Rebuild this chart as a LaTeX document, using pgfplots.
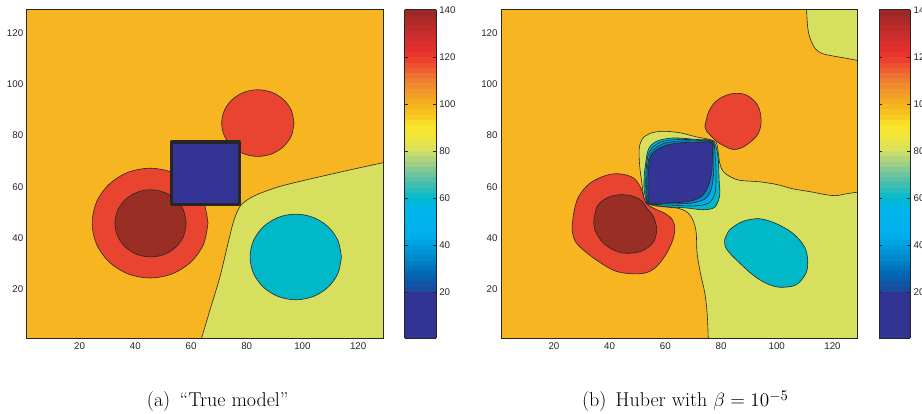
\documentclass[border=0pt]{standalone}
\usepackage{fontspec}
\usepackage{pgfplots}
\pgfplotsset{compat=1.18}
\newfontfamily\tickfont{Liberation Sans}
\definecolor{bgorange}{RGB}{246,181,33}
\definecolor{ygreen}{RGB}{214,224,94}
\definecolor{cred}{RGB}{232,68,47}
\definecolor{dred}{RGB}{153,46,37}
\definecolor{dblue}{RGB}{51,52,147}
\definecolor{ccyan}{RGB}{0,184,200}
\definecolor{lblue}{RGB}{0,174,236}
\definecolor{mblue}{RGB}{0,140,205}
\pgfplotsset{
  colormap={mymap}{rgb255(0pt)=(50,52,148) rgb255(19pt)=(50,52,148) rgb255(21pt)=(25,75,160)
    rgb255(28pt)=(0,105,180) rgb255(36pt)=(0,145,210) rgb255(44pt)=(0,175,235) rgb255(55pt)=(0,180,236)
    rgb255(60pt)=(0,185,205) rgb255(67pt)=(80,190,170) rgb255(74pt)=(150,205,140) rgb255(80pt)=(212,224,100)
    rgb255(86pt)=(240,230,60) rgb255(91pt)=(250,228,40) rgb255(96pt)=(247,195,30) rgb255(100pt)=(245,178,30)
    rgb255(106pt)=(242,150,45) rgb255(112pt)=(238,115,50) rgb255(118pt)=(235,70,48) rgb255(122pt)=(232,48,45)
    rgb255(130pt)=(200,45,45) rgb255(140pt)=(150,40,38)},
  myaxis/.style={
    scale only axis, width=267.4pt, height=246.2pt,
    xmin=1, xmax=129, ymin=1, ymax=129,
    xtick={20,40,...,120}, ytick={20,40,...,120},
    major tick length=0pt,
    tick label style={font=\tickfont\fontsize{7.3}{8}\selectfont, text=black!85},
    /pgf/number format/assume math mode=true,
    xticklabel style={inner sep=0pt, yshift=-3.7pt},
    yticklabel style={inner sep=0pt, xshift=-2.4pt},
    axis line style={black!85, line width=0.6pt},
    axis background/.style={fill=bgorange},
    axis on top,
    colorbar, colorbar sampled,
    point meta min=0.5, point meta max=140,
    colorbar style={
      at={(parent axis.north east)}, anchor=north west, xshift=7.6pt,
      scale only axis, width=23.5pt, height=246.2pt,
      samples=64,
      ytick={20,40,...,140},
      ytick pos=both, yticklabel pos=right,
      tick align=inside, major tick length=2.2pt,
      tick style={black!85, line width=0.4pt},
      tick label style={font=\tickfont\fontsize{7.3}{8}\selectfont, text=black!85},
      /pgf/number format/assume math mode=true,
      yticklabel style={inner sep=0pt, xshift=2.2pt},
      axis line style={black!85, line width=0.6pt},
    },
  },
  region/.style={draw=black!85, line width=0.45pt, smooth, tension=0.55},
}
\begin{document}
\begin{tikzpicture}
\useasboundingbox (0pt,0pt) rectangle (691.5pt,310.5pt);
% ---------- (a) True model ----------
\begin{axis}[myaxis, at={(20pt,57pt)}, anchor=south west]
\addplot[region, fill=ygreen] coordinates {(62.0,-10) (62.9,-2) (63.8,1) (66.8,11.9) (70.4,24.9) (73.3,38) (75.1,45.8) (76.9,51) (78.7,53.6) (82.3,56.2) (88.2,58.8) (95.4,61.1) (113.2,65.6) (128.7,69.3) (135,70.8) (145,73.2) (145,-20) (135,-20)} -- cycle;
\addplot[region, fill=ccyan] coordinates {(114,32.6) (112.75,39) (109.19,44.41) (103.88,48.03) (97.6,49.3) (91.32,48.03) (86.01,44.41) (82.45,39) (81.2,32.6) (82.45,26.2) (86.01,20.79) (91.32,17.17) (97.6,15.9) (103.88,17.17) (109.19,20.79) (112.75,26.2) (114,32.6)} -- cycle;
\addplot[region, fill=cred] coordinates {(66.1,45.8) (64.52,53.99) (60.01,60.93) (53.27,65.57) (45.3,67.2) (37.33,65.57) (30.59,60.93) (26.08,53.99) (24.5,45.8) (26.08,37.61) (30.59,30.67) (37.33,26.03) (45.3,24.4) (53.27,26.03) (60.01,30.67) (64.52,37.61) (66.1,45.8)} -- cycle;
\addplot[region, fill=dred] coordinates {(58.3,45.7) (57.33,50.72) (54.55,54.96) (50.4,57.8) (45.5,58.8) (40.6,57.8) (36.45,54.96) (33.67,50.72) (32.7,45.7) (33.67,40.68) (36.45,36.44) (40.6,33.6) (45.5,32.6) (50.4,33.6) (54.55,36.44) (57.33,40.68) (58.3,45.7)} -- cycle;
\addplot[region, fill=cred] coordinates {(97,84.8) (96.01,89.78) (93.19,93.99) (88.98,96.81) (84,97.8) (79.02,96.81) (74.81,93.99) (71.99,89.78) (71,84.8) (71.99,79.82) (74.81,75.61) (79.02,72.79) (84,71.8) (88.98,72.79) (93.19,75.61) (96.01,79.82) (97,84.8)} -- cycle;
\addplot[draw=black!85, line width=2.4pt, fill=dblue, line join=round] coordinates {(53,53) (77.3,53) (77.3,77.4) (53,77.4)} -- cycle;
\end{axis}
% ---------- (b) Huber ----------
\begin{axis}[myaxis, at={(375.75pt,57pt)}, anchor=south west]
\addplot[region, fill=ygreen] coordinates {(110.6,140) (110.7,129.4) (111.2,121.4) (112.3,116.9) (114,113.6) (116.4,111.9) (120,111) (124.8,110.1) (128.7,109.3) (135,108.3) (145,107) (145,140) (135,140)} -- cycle;
\addplot[region, fill=ygreen] coordinates {(75.4,-10) (75.4,1) (75.0,10.6) (74.2,18.4) (72.6,26.3) (71.4,34.1) (71.1,41.9) (70.4,45.5) (69.2,48.4) (67.4,50.4) (64.5,51.6) (60,52.1) (56,52.6) (53.2,53.6) (52.2,56.5) (51.5,62) (50.8,68) (50.6,74.5) (51.6,78.4) (54.5,80.8) (59.3,81.6) (65.3,81) (71.2,79.4) (75.9,78.4) (78.3,77.1) (78.9,74) (79.5,69.3) (80.7,66) (83.1,64) (86.7,62.5) (93.8,61.9) (99.8,60.9) (105.7,59.2) (111.7,58.1) (117.6,56.9) (121.2,56.5) (124.8,57.2) (128.7,57.8) (135,58.2) (145,58.5) (145,-10) (135,-10)} -- cycle;
\addplot[region, fill=ccyan] coordinates {(81.3,39.3) (83.1,43.2) (87.9,46.5) (93.8,47.5) (99.8,45.6) (105.7,41.9) (109.9,36.7) (111.1,31.5) (110.5,26.3) (106.9,21.7) (101,20.8) (96.2,22.3) (91.4,25.6) (86.7,30.2) (83.1,34.1) (81.5,36.7) (81.3,39.3)} -- cycle;
\addplot[region, fill=cred] coordinates {(26.5,43.2) (27.1,49.7) (28.9,56.2) (33.1,61.5) (39,64.5) (43.8,65) (48.6,63.4) (51.2,59.5) (52.3,55.5) (53.4,53.2) (56.5,51.2) (60,49.5) (62.6,47) (63.4,43.5) (62.7,39.3) (60.5,34.1) (56.9,28.9) (53.3,26.5) (48.6,26) (42.6,26.9) (37.9,29.5) (31.9,34.1) (27.7,38.6) (26.5,43.2)} -- cycle;
\addplot[region, fill=dred] coordinates {(34.3,46.5) (35.5,52.3) (39,55.6) (43.8,56.9) (48.6,56.2) (51.5,54.5) (53.5,51.5) (55.7,48.4) (56.9,43.2) (55.5,38) (51,34.7) (45,34.1) (40.2,36) (36.7,39.3) (34.7,43.2) (34.3,46.5)} -- cycle;
\addplot[region, fill=cred] coordinates {(74.2,83.6) (75.4,88.8) (77.7,92.8) (80.7,95.1) (84.3,96.3) (88.5,96) (92,93.4) (93.8,90.1) (94.4,84.9) (93.2,80.4) (90.2,77.1) (87.3,75.1) (84.3,74.5) (81.3,75.8) (78.6,77.5) (76.5,79.7) (74.8,81.7) (74.2,83.6)} -- cycle;
\addplot[region, fill=ccyan] coordinates {(53.3,53.4) (52.4,58.8) (52.4,64) (52.8,68) (53.9,74.5) (56.9,77.7) (62.9,79) (71.2,78.4) (77.1,77.7) (78.9,71.9) (79.3,62.7) (79.5,56.5) (77.7,52) (73.6,51) (67.6,51.7) (59.3,52.3) (53.3,53.4)} -- cycle;
\addplot[region, fill=lblue] coordinates {(53.4,53.4) (53,58.8) (53.1,66.5) (54.2,73.5) (58,77.2) (64.5,78.4) (72,78.1) (77,77.5) (77.9,71.9) (78.2,64) (77.8,57.5) (75.5,53.6) (70,52.5) (62,52.8) (56,53.1) (53.4,53.4)} -- cycle;
\addplot[region, fill=mblue] coordinates {(53.6,53.5) (53.3,58.8) (53.5,66.6) (54.7,73) (58.8,76.6) (64.9,77.8) (72.2,77.8) (76.9,77.3) (77.4,71.9) (77.3,64.8) (76.4,58.8) (74.2,55.2) (69.4,53.6) (62.5,53.3) (55.8,53.3) (53.6,53.5)} -- cycle;
\addplot[region, fill=dblue] coordinates {(53.9,53.6) (53.7,58.8) (53.9,66.7) (55.1,72.5) (59.3,75.8) (65.3,77.1) (72.4,77.3) (76.6,77.1) (76.9,71.9) (76.6,65.4) (75.4,60.1) (73,56.2) (68.8,54.3) (62.9,53.7) (55.7,53.5) (53.9,53.6)} -- cycle;
\end{axis}
\node[anchor=base west, inner sep=0pt, font=\fontsize{15}{18}\selectfont] at (110pt,5.25pt) {(a)\hspace{7pt}``True model''};
\node[anchor=base west, inner sep=0pt, font=\fontsize{15}{18}\selectfont] at (436.3pt,5.25pt) {(b)\hspace{7pt}Huber with $\beta=10^{-5}$};
\end{tikzpicture}
\end{document}
